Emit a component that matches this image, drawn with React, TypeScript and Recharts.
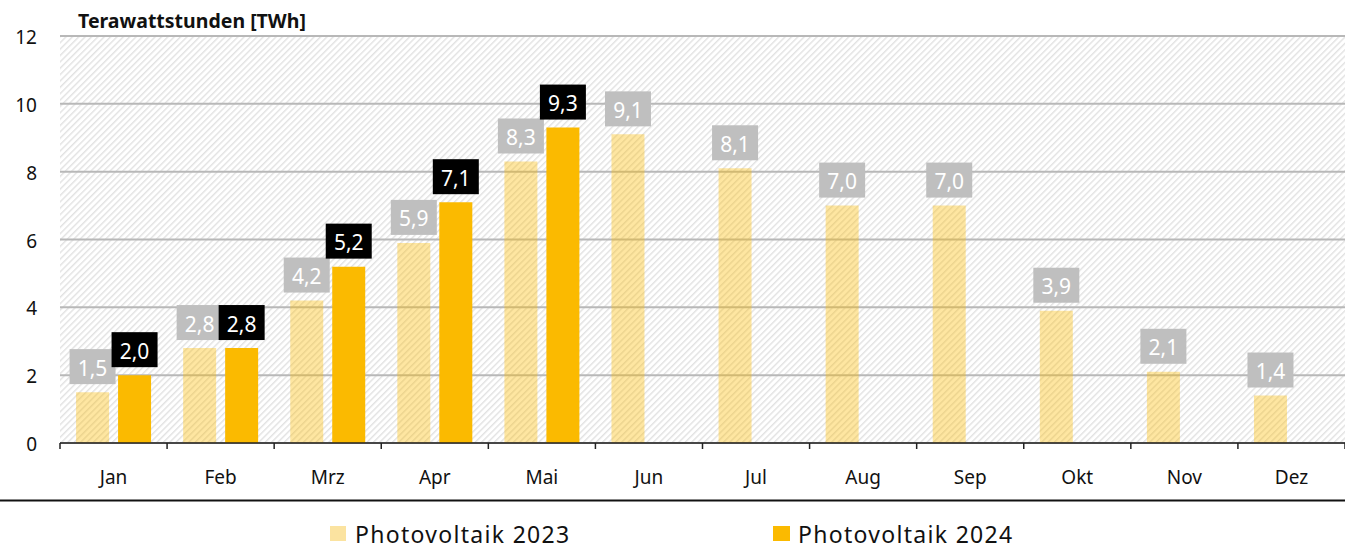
import React from "react";
import { ComposedChart, Bar, XAxis, YAxis, CartesianGrid, LabelList } from "recharts";

const months = ["Jan", "Feb", "Mrz", "Apr", "Mai", "Jun", "Jul", "Aug", "Sep", "Okt", "Nov", "Dez"];
const pv2023 = [1.5, 2.8, 4.2, 5.9, 8.3, 9.1, 8.1, 7.0, 7.0, 3.9, 2.1, 1.4];
const pv2024: (number | null)[] = [2.0, 2.8, 5.2, 7.1, 9.3, null, null, null, null, null, null, null];
const yTicks = [0, 2, 4, 6, 8, 10, 12];
const seriesNames = ["Photovoltaik 2023", "Photovoltaik 2024"];
const unitTitle = "Terawattstunden [TWh]";

const data = months.map((m, i) => ({ month: m, a: pv2023[i], b: pv2024[i] }));

const FONT = "'Noto Sans', 'DejaVu Sans', sans-serif";
const C2024 = "#fbba00";
const LEGEND_2023 = "#fbe3a0";

const fmt = (v: number) => v.toFixed(1).replace(".", ",");

const makeLabel = (boxFill: string) => (props: any) => {
  const { x, y, width, value } = props;
  if (value === null || value === undefined) return null;
  const bw = 46;
  const bh = 35;
  const cx = Number(x) + Number(width) / 2;
  const top = Number(y) - 8 - bh;
  return (
    <g>
      <rect x={cx - bw / 2} y={top} width={bw} height={bh} fill={boxFill} />
      <text
        x={cx}
        y={top + bh / 2 + 1}
        textAnchor="middle"
        dominantBaseline="central"
        fill="#ffffff"
        fontFamily={FONT}
        fontSize={21}
      >
        {fmt(Number(value))}
      </text>
    </g>
  );
};

const XTick = (props: any) => {
  const { x, y, payload, width, visibleTicksCount, index } = props;
  const bw = Number(width) / Number(visibleTicksCount || 12);
  const left = x - bw / 2;
  return (
    <g>
      <line x1={left} x2={left} y1={y} y2={y + 6} stroke="#222" strokeWidth={1.5} />
      {index === visibleTicksCount - 1 ? (
        <line x1={x + bw / 2} x2={x + bw / 2} y1={y} y2={y + 6} stroke="#222" strokeWidth={1.5} />
      ) : null}
      <text
        x={x}
        y={y + 34}
        textAnchor="middle"
        dominantBaseline="central"
        fill="#111"
        fontFamily={FONT}
        fontSize={19}
      >
        {payload.value}
      </text>
    </g>
  );
};

const YTick = (props: any) => {
  const { y, payload } = props;
  return (
    <text
      x={37}
      y={y + 1}
      textAnchor="end"
      dominantBaseline="central"
      fill="#111"
      fontFamily={FONT}
      fontSize={19}
    >
      {payload.value}
    </text>
  );
};

export default function App() {
  return (
    <div style={{ position: "absolute", left: 0, top: 0, width: 1345, height: 555, background: "#fff" }}>
      <ComposedChart
        width={1345}
        height={555}
        data={data}
        margin={{ top: 36, right: 0, left: 0, bottom: 62 }}
        barCategoryGap="15%"
        barGap={9}
      >
        <defs>
          <pattern id="hatch" width="4.5" height="4.5" patternUnits="userSpaceOnUse" patternTransform="rotate(45)">
            <rect width="4.5" height="4.5" fill="#ffffff" />
            <rect x="0" y="0" width="1.4" height="4.5" fill="#e2e2e2" />
          </pattern>
        </defs>
        <CartesianGrid vertical={false} stroke="#b8b8b8" strokeWidth={2} fill="url(#hatch)" />
        <XAxis
          dataKey="month"
          interval={0}
          height={50}
          tickSize={0}
          tickMargin={0}
          tickLine={false}
          axisLine={{ stroke: "#222", strokeWidth: 1.5 }}
          tick={<XTick />}
        />
        <YAxis
          domain={[0, 12]}
          ticks={yTicks}
          width={60}
          axisLine={false}
          tickLine={false}
          tick={<YTick />}
          interval={0}
        />
        <Bar dataKey="a" name={seriesNames[0]} fill={C2024} fillOpacity={0.37} isAnimationActive={false}>
          <LabelList dataKey="a" content={makeLabel("#bfbfbf")} />
        </Bar>
        <Bar dataKey="b" name={seriesNames[1]} fill={C2024} isAnimationActive={false}>
          <LabelList dataKey="b" content={makeLabel("#000000")} />
        </Bar>
        <text x={78} y={20} dominantBaseline="central" fontFamily={FONT} fontWeight={700} fontSize={19.5} fill="#111">
          {unitTitle}
        </text>
        <line x1={0} x2={1345} y1={500.5} y2={500.5} stroke="#111" strokeWidth={2} />
        <g>
          <rect x={330} y={526} width={16} height={15} fill={LEGEND_2023} />
          <text x={355} y={543} fontFamily={FONT} fontSize={23} letterSpacing={1.3} fill="#111">
            {seriesNames[0]}
          </text>
          <rect x={773} y={526} width={17} height={15} fill={C2024} />
          <text x={798} y={543} fontFamily={FONT} fontSize={23} letterSpacing={1.3} fill="#111">
            {seriesNames[1]}
          </text>
        </g>
      </ComposedChart>
    </div>
  );
}
